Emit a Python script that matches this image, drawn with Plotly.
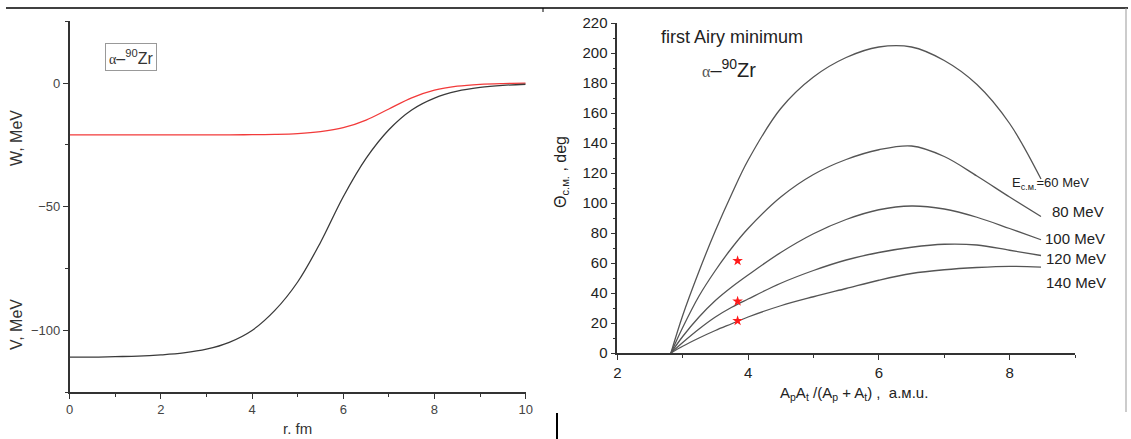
import plotly.graph_objects as go

# ---------- Left panel data: potentials ----------
r_fm = [0, 0.5, 1, 1.5, 2, 2.5, 3, 3.5, 4, 4.5, 5, 5.5, 6, 6.5, 7, 7.5, 8, 8.5, 9, 9.5, 10]
V_real = [-110.9, -110.9, -110.7, -110.5, -110.0, -109.2, -107.7, -104.9, -100.1, -92.0,
          -80.5, -64.5, -46.0, -30.5, -18.9, -10.9, -6.1, -3.3, -1.8, -0.96, -0.5]
W_imag = [-21.0, -21.0, -21.0, -21.0, -21.0, -21.0, -21.0, -21.0, -20.9, -20.8,
          -20.5, -19.7, -18.1, -15.0, -10.5, -6.0, -2.9, -1.3, -0.54, -0.22, -0.09]

# ---------- Right panel data: first Airy minimum ----------
mu_amu = [2.82, 3.0, 3.25, 3.5, 3.75, 4.0, 4.5, 5.0, 5.5, 6.0, 6.5, 7.0, 7.5, 8.0, 8.48]
theta_60 = [0, 25, 54.5, 81.5, 106, 128.5, 163, 184, 197, 204, 204, 195, 179, 153, 116]
theta_80 = [0, 17, 38, 55, 70, 83, 104, 119, 129, 135.5, 138, 131, 118, 104, 91]
theta_100 = [0, 11, 24, 35, 44, 52, 67, 79.5, 89, 95.5, 98, 96, 90.5, 83, 75.5]
theta_120 = [0, 7, 16, 24, 30.5, 36, 46.5, 55, 62, 67, 70.5, 72.5, 72, 68.5, 65]
theta_140 = [0, 4.5, 10, 15, 19.5, 24, 31.5, 37.5, 43, 48.5, 53, 55.5, 57, 57.8, 57.3]
energy_labels = ["E<sub>с.м.</sub>=60 MeV", "80 MeV", "100 MeV", "120 MeV", "140 MeV"]

star_x = [3.84, 3.84, 3.84]
star_y = [61.5, 34.5, 21.5]

W, H = 1131, 439
def px(x): return x / W
def py(y): return 1 - y / H

FONT = "Liberation Sans, Arial, sans-serif"
AX = "#333333"
fig = go.Figure()

fig.add_trace(go.Scatter(x=r_fm, y=W_imag, mode="lines", line=dict(color="#f23a3a", width=1.3, shape="spline"),
                         xaxis="x", yaxis="y", showlegend=False, hoverinfo="skip"))
fig.add_trace(go.Scatter(x=r_fm, y=V_real, mode="lines", line=dict(color="#3a3a3a", width=1.3, shape="spline"),
                         xaxis="x", yaxis="y", showlegend=False, hoverinfo="skip"))

for th in [theta_60, theta_80, theta_100, theta_120, theta_140]:
    fig.add_trace(go.Scatter(x=mu_amu, y=th, mode="lines", line=dict(color="#555555", width=1.3, shape="spline"),
                             xaxis="x2", yaxis="y2", showlegend=False, hoverinfo="skip"))
fig.add_trace(go.Scatter(x=star_x, y=star_y, mode="markers",
                         marker=dict(symbol="star", color="#ff1a1a", size=8, line=dict(width=0)),
                         xaxis="x2", yaxis="y2", showlegend=False, hoverinfo="skip"))

common = dict(showline=True, linecolor=AX, linewidth=1.5, ticks="outside", tickcolor=AX, tickwidth=1.3,
              showgrid=False, zeroline=False, mirror=False, automargin=False)

fig.update_layout(
    width=W, height=H, margin=dict(l=0, r=0, t=0, b=0, autoexpand=False),
    paper_bgcolor="white", plot_bgcolor="white",
    font=dict(family=FONT),
    xaxis=dict(domain=[px(69.6), px(525.7)], range=[0, 10], tickvals=[0, 2, 4, 6, 8, 10], ticklen=5,
               minor=dict(dtick=1, tick0=0, ticklen=3, ticks="outside", tickcolor=AX),
               tickfont=dict(size=13, color="#444"), anchor="y", **common),
    yaxis=dict(domain=[py(392), py(21.2)], range=[-125, 25], tickvals=[-100, -50, 0], ticklen=5,
               minor=dict(tickvals=[-125, -75, -25, 25], ticklen=3, ticks="outside", tickcolor=AX),
               tickfont=dict(size=13, color="#444"), anchor="x", **common),
    xaxis2=dict(domain=[px(617.3), px(1075)], range=[2, 9], tickvals=[2, 4, 6, 8], ticklen=5,
                minor=dict(dtick=1, tick0=2, ticklen=3, ticks="outside", tickcolor=AX),
                tickfont=dict(size=15, color="#222"), anchor="y2", **common),
    yaxis2=dict(domain=[py(353), py(23)], range=[0, 220], dtick=20, tick0=0, ticklen=5,
                minor=dict(dtick=10, tick0=0, ticklen=3, ticks="outside", tickcolor=AX),
                tickfont=dict(size=15, color="#222"), anchor="x2", **common),
)

ann = []
def A(text, x, y, size=15, color="#222", angle=0, xanchor="center", **kw):
    ann.append(dict(text=text, x=px(x), y=py(y), xref="paper", yref="paper", showarrow=False,
                    font=dict(size=size, color=color, family=FONT), textangle=angle,
                    xanchor=xanchor, yanchor="middle", **kw))

A("r. fm", 297, 428, size=15, color="#333")
A("W, MeV", 16, 138, size=16, color="#333", angle=-90)
A("V, MeV", 16, 325, size=16, color="#333", angle=-90)
A("<span style='font-family:Liberation Serif;font-size:14px'>α</span>–<sup>90</sup>Zr", 131, 57, size=16,
  color="#333", bordercolor="#999", borderwidth=1, borderpad=3)
A("first Airy minimum", 732, 37, size=18)
A("<span style='font-family:Liberation Serif;font-size:16px;color:#555'>α</span>–<sup>90</sup>Zr", 729, 68, size=20)
A("Θ<sub>с.м.</sub> , deg", 561, 172, size=16, angle=-90)
A("A<sub>p</sub>A<sub>t</sub> /(A<sub>p</sub> + A<sub>t</sub>) ,  а.м.u.", 854, 393, size=15)
label_pos = [(1010, 183, 13), (1050, 211, 15), (1043, 238, 15), (1044, 258, 15), (1044, 282, 15)]
for lab, (lx, ly, ls) in zip(energy_labels, label_pos):
    A(lab, lx, ly, size=ls, xanchor="left")
fig.update_layout(annotations=ann)

shapes = [
    dict(type="line", xref="paper", yref="paper", x0=px(6), x1=px(1128), y0=py(8), y1=py(8),
         line=dict(color="black", width=1.5)),
    dict(type="line", xref="paper", yref="paper", x0=px(543), x1=px(543), y0=py(8), y1=py(12),
         line=dict(color="black", width=1)),
    dict(type="line", xref="paper", yref="paper", x0=px(1126), x1=px(1126), y0=py(8), y1=py(412),
         line=dict(color="#999", width=1)),
    dict(type="line", xref="paper", yref="paper", x0=px(557), x1=px(557), y0=py(413), y1=py(439),
         line=dict(color="black", width=2)),
]
fig.update_layout(shapes=shapes)

fig.write_html("out.html", config={"displayModeBar": False},
               post_script="document.body.style.margin='0';document.body.style.overflow='hidden';")
